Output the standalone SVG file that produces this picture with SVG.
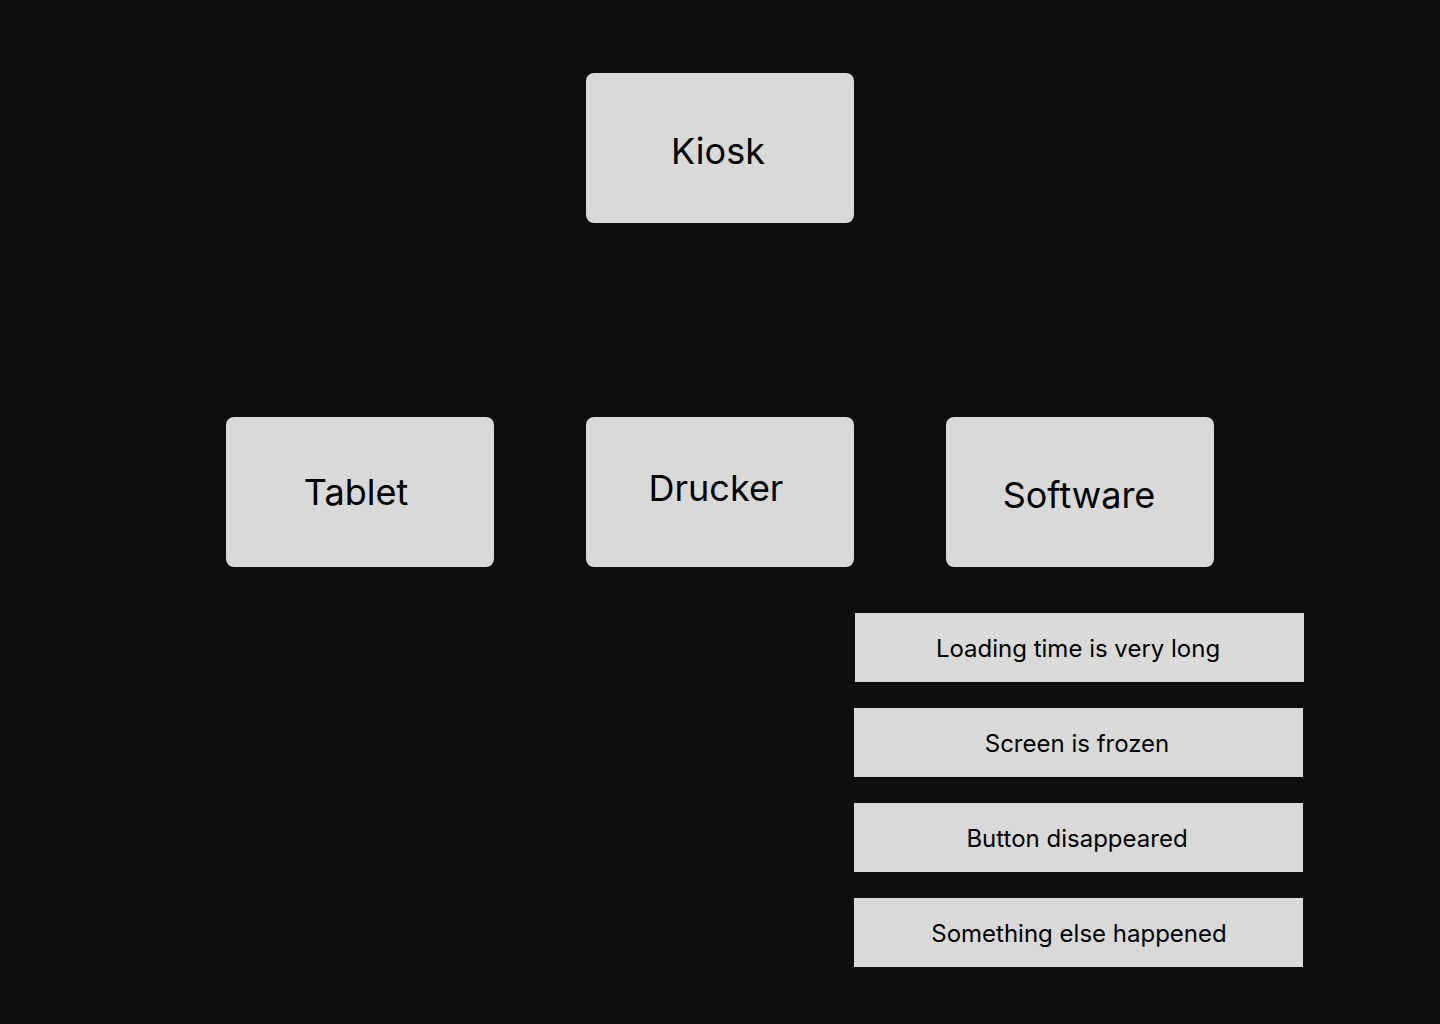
<svg xmlns="http://www.w3.org/2000/svg" width="1440" height="1024" viewBox="0 0 1440 1024">
<style>
.bg{fill:#0e0e0e}
.box{fill:#d9d9d9}
.big{font-family:Inter,"Noto Sans",sans-serif;font-size:36px;fill:#000;text-anchor:middle}
.small{font-family:Inter,"Noto Sans",sans-serif;font-size:24px;fill:#000;text-anchor:middle}
</style>
<rect class="bg" x="0" y="0" width="1440" height="1024"/>
<g id="connectors"></g>
<g id="kiosk"><rect class="box" x="586" y="73" width="268" height="150" rx="8"/><text class="big" x="718" y="164">Kiosk</text></g>
<g id="tablet"><rect class="box" x="226" y="417" width="268" height="150" rx="8"/><text class="big" x="356" y="505">Tablet</text></g>
<g id="drucker"><rect class="box" x="586" y="417" width="268" height="150" rx="8"/><text class="big" x="716" y="501">Drucker</text></g>
<g id="software"><rect class="box" x="946" y="417" width="268" height="150" rx="8"/><text class="big" x="1079" y="508">Software</text></g>
<g id="loading"><rect class="box" x="855" y="613" width="449" height="69"/><text class="small" x="1078" y="657">Loading time is very long</text></g>
<g id="frozen"><rect class="box" x="854" y="708" width="449" height="69"/><text class="small" x="1077" y="752">Screen is frozen</text></g>
<g id="button"><rect class="box" x="854" y="803" width="449" height="69"/><text class="small" x="1077" y="847">Button disappeared</text></g>
<g id="else"><rect class="box" x="854" y="898" width="449" height="69"/><text class="small" x="1079" y="942">Something else happened</text></g>
</svg>
